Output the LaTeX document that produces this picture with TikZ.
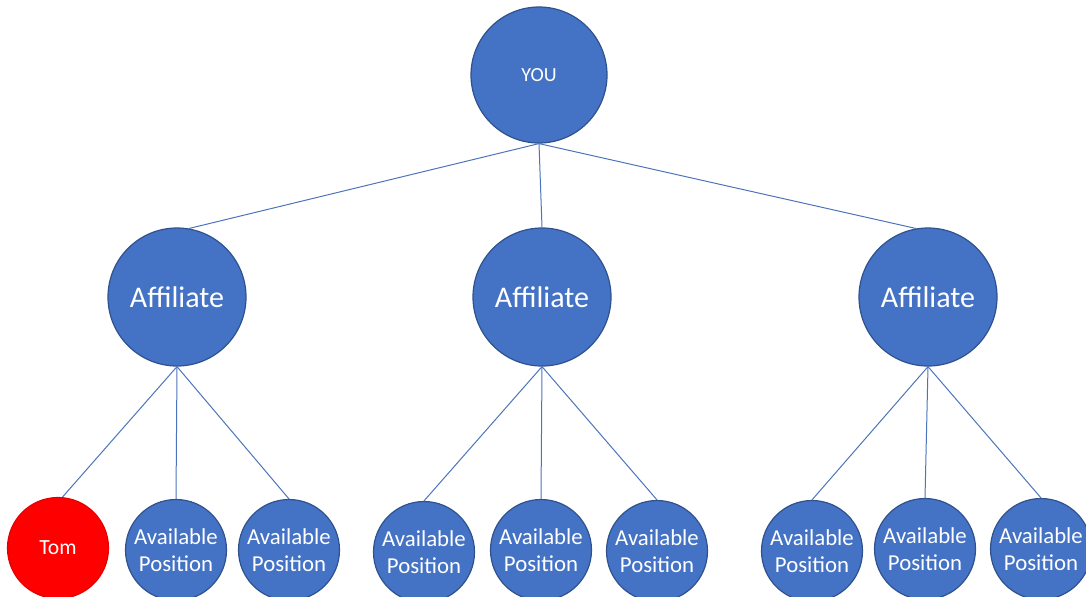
\documentclass[tikz,border=0pt]{standalone}
\usepackage{fontspec}
\setmainfont{Carlito}
\usepackage{tikz}
\usetikzlibrary{positioning,shapes}
\definecolor{officeblue}{HTML}{4472C4}
\definecolor{officeedge}{HTML}{2F528F}
\tikzstyle{member}=[draw=officeedge, fill=officeblue, circle, text=white, inner sep=0pt, line width=0.6pt, align=center]
\tikzstyle{rootnode}=[member, minimum size=68pt, font=\fontsize{10}{12}\selectfont]
\tikzstyle{affil}=[member, minimum size=69pt, font=\fontsize{15}{17}\selectfont]
\tikzstyle{slot}=[member, minimum size=50.5pt, font=\fontsize{11.4}{13.5}\selectfont]
\tikzstyle{taken}=[slot, draw=red!90!black, fill=red, font=\fontsize{10.8}{12}\selectfont]
\tikzstyle{link}=[draw=officeblue!85!gray, line width=0.5pt]

\begin{document}
\begin{tikzpicture}[x=0.5pt, y=-0.5pt]
    \useasboundingbox (0,0) rectangle (1086,596);
    % top
    \node [rootnode] (you) at (539,75) {YOU};
    % affiliates
    \node [affil] (aff1) at (177,297) {Affiliate};
    \node [affil] (aff2) at (542,297) {Affiliate};
    \node [affil] (aff3) at (928,297) {Affiliate};
    % positions
    \node [taken] (tom) at (58,548) {Tom};
    \node [slot] (p12) at (176,550) {Available\\Position};
    \node [slot] (p13) at (289,550) {Available\\Position};
    \node [slot] (p21) at (424,552) {Available\\Position};
    \node [slot] (p22) at (541,550) {Available\\Position};
    \node [slot] (p23) at (657,551) {Available\\Position};
    \node [slot] (p31) at (812,551) {Available\\Position};
    \node [slot] (p32) at (925,549) {Available\\Position};
    \node [slot] (p33) at (1041,549) {Available\\Position};
    % links
    \draw [link] (you.south) edge (aff1.80) edge (aff2.north) edge (aff3.100);
    \draw [link] (aff1.south) edge (tom.85) edge (p12.north) edge (p13.north);
    \draw [link] (aff2.south) edge (p21.north) edge (p22.north) edge (p23.north);
    \draw [link] (aff3.south) edge (p31.north) edge (p32.north) edge (p33.north);
\end{tikzpicture}
\end{document}
